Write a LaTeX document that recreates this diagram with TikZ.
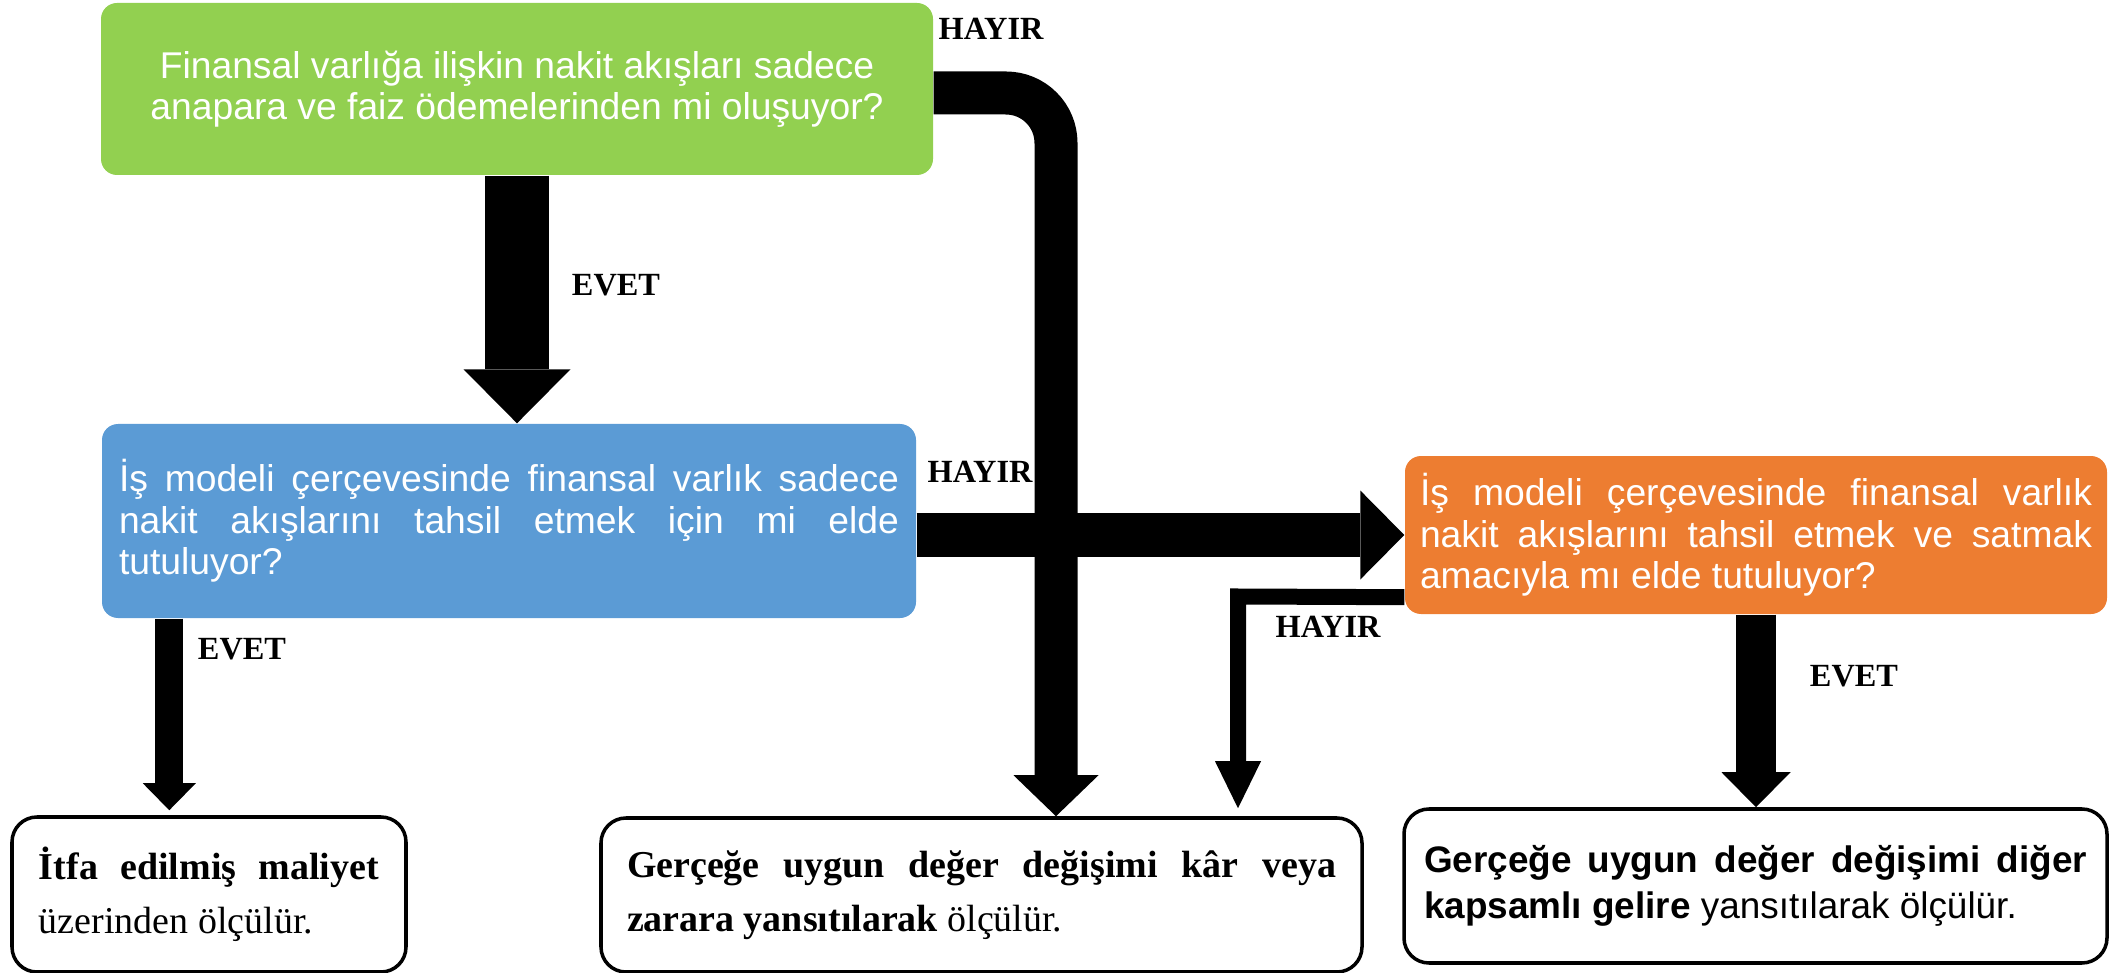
\documentclass[tikz,border=0pt]{standalone}
\usepackage{fontspec}
\setmainfont{Liberation Serif}
\newfontfamily\arialfont{Liberation Sans}
\usetikzlibrary{arrows.meta}

\definecolor{qgreen}{RGB}{146,208,80}
\definecolor{qblue}{RGB}{91,155,213}
\definecolor{qorange}{RGB}{237,125,49}

\tikzset{
	question/.style={rectangle, rounded corners=0.16cm, text=white, inner sep=0pt,
		font=\arialfont\fontsize{10.6pt}{11.8pt}\selectfont},
	result/.style={rectangle, draw, line width=1pt, rounded corners=0.25cm,
		inner sep=0pt, align=justify},
	answer/.style={font=\fontsize{9.2pt}{11pt}\selectfont\bfseries, inner sep=0pt},
	flow/.style n args={3}{line width=#1,
		-{Triangle[width=#2, length=#3, line width=0pt]}},
}

\begin{document}
\begin{tikzpicture}
		\useasboundingbox (0, 0) rectangle (21.09, -9.73);
		% 三个问题
		\node[question, fill=qgreen, minimum width=8.32cm, minimum height=1.72cm, align=center]
			(sppi) at (5.17, -0.89)
			{Finansal varlığa ilişkin nakit akışları sadece\\anapara ve faiz ödemelerinden mi oluşuyor?};
		\node[question, fill=qblue, minimum width=8.14cm, minimum height=1.94cm,
			text width=7.8cm, align=justify] (tahsil) at (5.09, -5.21)
			{İş modeli çerçevesinde finansal varlık sadece\linebreak
			nakit akışlarını tahsil etmek için mi elde\linebreak tutuluyor?};
		\node[question, fill=qorange, minimum width=7.02cm, minimum height=1.58cm,
			text width=6.72cm, align=justify] (satis) at (17.56, -5.35)
			{İş modeli çerçevesinde finansal varlık\linebreak
			nakit akışlarını tahsil etmek ve satmak\linebreak amacıyla mı elde tutuluyor?};
		% 三个结果
		\node[result, minimum width=3.94cm, minimum height=1.55cm, text width=3.4cm,
			font=\fontsize{10.8pt}{15.3pt}\selectfont] (itfa) at (2.09, -8.945)
			{\textbf{İtfa edilmiş maliyet}\linebreak üzerinden ölçülür.};
		\node[result, minimum width=7.61cm, minimum height=1.54cm, text width=7.09cm,
			font=\fontsize{10.8pt}{15.3pt}\selectfont] (kz) at (9.815, -8.95)
			{\textbf{Gerçeğe uygun değer değişimi kâr veya}\linebreak
			\textbf{zarara yansıtılarak} ölçülür.};
		\node[result, minimum width=7.03cm, minimum height=1.54cm, text width=6.63cm,
			font=\arialfont\fontsize{10.5pt}{13pt}\selectfont] (dkg) at (17.555, -8.86)
			{\textbf{Gerçeğe uygun değer değişimi diğer}\linebreak
			\textbf{kapsamlı gelire} yansıtılarak ölçülür.};
		% 箭头
		\draw[flow={0.64cm}{1.07cm}{0.54cm}] (sppi.south) -- (sppi.south |- tahsil.north);
		\coordinate (donus) at (10.56, -0.93);
		\draw[flow={0.43cm}{0.85cm}{0.41cm}, rounded corners=0.5cm]
			(sppi.east |- donus) -- (donus) -- (donus |- kz.north);
		\draw[flow={0.44cm}{0.89cm}{0.44cm}] (tahsil.east |- satis.west) -- (satis.west);
		\coordinate (evet2) at ([xshift=0.68cm]tahsil.south west);
		\draw[flow={0.28cm}{0.53cm}{0.27cm}, shorten >=0.05cm] (evet2) -- (evet2 |- itfa.north);
		\coordinate (hayir3) at ([yshift=0.175cm]satis.south west);
		\coordinate (kose) at (12.38, -5.965);
		\draw[flow={0.16cm}{0.46cm}{0.47cm}, shorten >=0.08cm]
			(hayir3) -- (kose) -- (kose |- kz.north);
		\draw[flow={0.40cm}{0.69cm}{0.35cm}] (satis.south) -- (satis.south |- dkg.north);
		% 是/否
		\foreach \x/\y/\t [count=\i] in {9.91/-0.285/HAYIR, 6.16/-2.85/EVET,
				9.80/-4.72/HAYIR, 2.42/-6.49/EVET, 13.28/-6.27/HAYIR, 18.54/-6.76/EVET} {
			\node[answer] (etiket\i) at (\x, \y) {\t};
		}
	\end{tikzpicture}
\end{document}
